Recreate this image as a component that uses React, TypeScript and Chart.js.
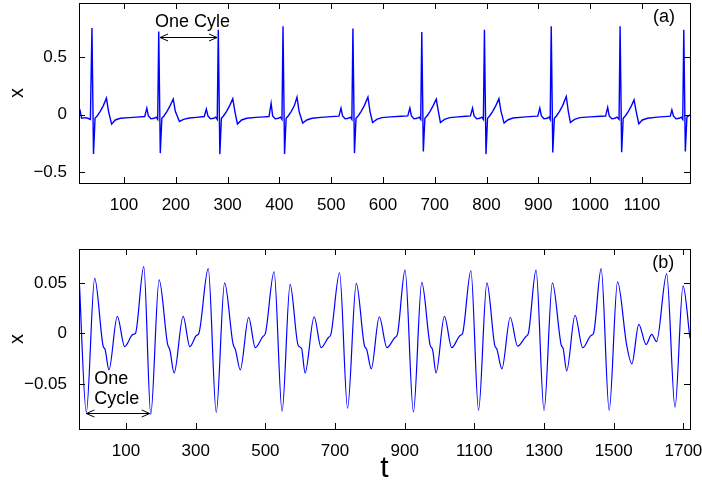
import React, { useEffect, useRef } from 'react';
import { Chart, registerables } from 'chart.js';

Chart.register(...registerables);

const FONT = '"Liberation Sans", Arial, Helvetica, sans-serif';

// ---------- Panel (a): ECG-like signal ----------
const topT: number[] = [
  13, 15, 18, 25, 30, 35,
  38, 41, 44, 48, 54, 60, 66, 70, 76, 83, 93, 110, 125, 140, 144, 147, 152, 158, 162, 165,
  167, 170, 173, 177, 183, 189, 195, 199, 207, 215, 226, 240, 255, 259, 262, 267, 273, 277, 280,
  282, 285, 288, 292, 298, 304, 310, 314, 319, 327, 337, 355, 370, 380, 384, 387, 392, 398, 402, 405,
  407, 410, 413, 417, 423, 429, 434, 438, 445, 453, 463, 480, 500, 515, 519, 522, 527, 533, 537, 540,
  542, 545, 548, 552, 558, 564, 571, 575, 580, 588, 598, 615, 635, 648, 652, 655, 660, 666, 670, 673,
  675, 678, 681, 685, 691, 697, 703, 707, 711, 719, 729, 745, 760, 769, 773, 776, 781, 787, 791, 794,
  796, 799, 802, 806, 812, 818, 824, 828, 834, 841, 851, 870, 890, 899, 903, 906, 911, 917, 921, 923,
  925, 928, 931, 935, 941, 947, 954, 958, 962, 970, 980, 1000, 1020, 1030, 1034, 1037, 1042, 1048, 1052, 1056,
  1058, 1061, 1064, 1068, 1074, 1080, 1085, 1089, 1094, 1101, 1111, 1130, 1150, 1155, 1158, 1161, 1166, 1172, 1176, 1179,
  1181, 1184, 1187, 1193,
];
const topX: number[] = [
  0.058, 0.04, -0.03, -0.025, -0.03, -0.04,
  0.754, -0.34, -0.03, -0.01, 0.03, 0.08, 0.145, 0.03, -0.081, -0.045, -0.03, -0.025, -0.02, -0.015, 0.058, -0.01, -0.035, -0.03, -0.02, -0.04,
  0.724, -0.333, -0.03, -0.01, 0.03, 0.08, 0.137, 0.03, -0.058, -0.04, -0.028, -0.022, -0.015, 0.05, -0.01, -0.035, -0.03, -0.02, -0.04,
  0.74, -0.342, -0.03, -0.01, 0.03, 0.08, 0.14, 0.03, -0.08, -0.045, -0.03, -0.022, -0.018, -0.015, 0.1, -0.01, -0.035, -0.03, -0.02, -0.04,
  0.77, -0.34, -0.03, -0.01, 0.03, 0.08, 0.154, 0.03, -0.072, -0.045, -0.03, -0.022, -0.016, -0.012, 0.058, -0.01, -0.035, -0.03, -0.02, -0.04,
  0.75, -0.333, -0.03, -0.01, 0.03, 0.08, 0.154, 0.03, -0.067, -0.04, -0.025, -0.018, -0.013, -0.01, 0.058, -0.01, -0.035, -0.03, -0.02, -0.04,
  0.72, -0.319, -0.03, -0.01, 0.03, 0.08, 0.137, 0.03, -0.067, -0.04, -0.025, -0.018, -0.013, -0.01, 0.058, -0.01, -0.035, -0.03, -0.02, -0.04,
  0.74, -0.342, -0.03, -0.01, 0.03, 0.08, 0.14, 0.03, -0.072, -0.045, -0.028, -0.02, -0.014, -0.012, 0.058, -0.01, -0.035, -0.03, -0.02, -0.04,
  0.77, -0.328, -0.03, -0.01, 0.03, 0.08, 0.159, 0.03, -0.067, -0.04, -0.025, -0.018, -0.013, -0.012, 0.064, -0.01, -0.035, -0.03, -0.02, -0.04,
  0.77, -0.325, -0.03, -0.01, 0.03, 0.08, 0.13, 0.03, -0.078, -0.045, -0.03, -0.02, -0.014, -0.012, 0.043, -0.01, -0.035, -0.03, -0.02, -0.04,
  0.74, -0.319, -0.02, 0.0,
];
const topXTicks = [100, 200, 300, 400, 500, 600, 700, 800, 900, 1000, 1100];
const topYTicks = [-0.5, 0, 0.5];

// ---------- Panel (b): smooth oscillation ----------
const botT: number[] = [
  -35, -14, 10, 34, 40, 51, 75, 96, 120, 127, 151,
  171, 195, 219, 226, 238, 264, 283, 302, 309, 336,
  359, 383, 407, 414, 428, 452, 471, 493, 500, 525,
  548, 571, 594, 604, 614, 640, 660, 681, 688, 713,
  736, 761, 784, 791, 804, 827, 849, 872, 879, 901,
  925, 949, 973, 980, 990, 1014, 1035, 1059, 1066, 1090,
  1112, 1136, 1158, 1165, 1179, 1203, 1224, 1248, 1255, 1277,
  1300, 1324, 1349, 1355, 1365, 1389, 1411, 1435, 1442, 1464,
  1487, 1511, 1537, 1552, 1572, 1593, 1609, 1623, 1652,
  1676, 1699, 1719,
];
const botX: number[] = [
  0.058, -0.078, 0.0545, -0.012, -0.016, -0.036, 0.017, -0.013, -0.001, 0.0, 0.066,
  -0.08, 0.053, -0.01, -0.0165, -0.039, 0.017, -0.013, -0.002, 0.0, 0.064,
  -0.078, 0.05, -0.01, -0.016, -0.036, 0.016, -0.014, -0.003, 0.0, 0.061,
  -0.077, 0.0485, -0.0116, -0.015, -0.039, 0.0165, -0.014, -0.004, -0.001, 0.06,
  -0.074, 0.0495, -0.0116, -0.016, -0.035, 0.0165, -0.014, -0.004, -0.001, 0.0627,
  -0.0776, 0.0505, -0.0116, -0.016, -0.039, 0.017, -0.014, -0.002, 0.0, 0.062,
  -0.076, 0.05, -0.011, -0.016, -0.035, 0.016, -0.0126, -0.003, 0.0, 0.0627,
  -0.076, 0.05, -0.011, -0.015, -0.037, 0.018, -0.014, -0.002, 0.0, 0.064,
  -0.076, 0.051, -0.011, -0.03, 0.009, -0.011, -0.001, -0.008, 0.059,
  -0.073, 0.047, -0.005,
];
const botXTicks = [100, 300, 500, 700, 900, 1100, 1300, 1500, 1700];
const botYTicks = [-0.05, 0, 0.05];

function fmt(v: number): string {
  if (v === 0) return '0';
  return (v < 0 ? '\u2212' : '') + String(Math.abs(v));
}

type TextSpec = { text: string; x: number; y: number; align: CanvasTextAlign; size: number };
type ArrowSpec = { x1: number; x2: number; y: number };

function makePlugin(texts: TextSpec[], arrows: ArrowSpec[], xLabel: { text: string; y: number } | null) {
  return {
    id: 'matlabAxes',
    afterDatasetsDraw(chart: any) {
      const { ctx, chartArea: a, scales } = chart;
      const xs = scales.x;
      const ys = scales.y;
      const L = 6;
      ctx.save();
      ctx.strokeStyle = '#000';
      ctx.lineWidth = 1;
      ctx.beginPath();
      for (const t of xs.ticks) {
        const px = Math.round(xs.getPixelForValue(t.value)) + 0.5;
        ctx.moveTo(px, a.bottom);
        ctx.lineTo(px, a.bottom - L);
        ctx.moveTo(px, a.top);
        ctx.lineTo(px, a.top + L);
      }
      for (const t of ys.ticks) {
        const py = Math.round(ys.getPixelForValue(t.value)) + 0.5;
        ctx.moveTo(a.left, py);
        ctx.lineTo(a.left + L, py);
        ctx.moveTo(a.right, py);
        ctx.lineTo(a.right - L, py);
      }
      ctx.stroke();
      ctx.strokeRect(a.left + 0.5, a.top + 0.5, a.right - a.left, a.bottom - a.top);

      // arrows
      ctx.beginPath();
      for (const ar of arrows) {
        const y = Math.round(ys.getPixelForValue(ar.y)) + 0.5;
        const x1 = xs.getPixelForValue(ar.x1);
        const x2 = xs.getPixelForValue(ar.x2);
        ctx.moveTo(x1, y);
        ctx.lineTo(x2, y);
        ctx.moveTo(x1 + 8, y - 3.5);
        ctx.lineTo(x1, y);
        ctx.lineTo(x1 + 8, y + 3.5);
        ctx.moveTo(x2 - 8, y - 3.5);
        ctx.lineTo(x2, y);
        ctx.lineTo(x2 - 8, y + 3.5);
      }
      ctx.stroke();

      ctx.fillStyle = '#000';
      ctx.textBaseline = 'middle';
      for (const t of texts) {
        ctx.font = `${t.size}px ${FONT}`;
        ctx.textAlign = t.align;
        ctx.fillText(t.text, xs.getPixelForValue(t.x), ys.getPixelForValue(t.y));
      }

      // y label
      ctx.save();
      ctx.font = `20px ${FONT}`;
      ctx.textAlign = 'center';
      ctx.textBaseline = 'middle';
      ctx.translate(17, (a.top + a.bottom) / 2);
      ctx.rotate(-Math.PI / 2);
      ctx.fillText('x', 0, 0);
      ctx.restore();

      if (xLabel) {
        ctx.font = `30px ${FONT}`;
        ctx.textAlign = 'center';
        ctx.textBaseline = 'alphabetic';
        ctx.fillText(xLabel.text, (a.left + a.right) / 2, xLabel.y);
      }
      ctx.restore();
    },
  };
}

function makeConfig(p: {
  t: number[]; v: number[]; xMin: number; xMax: number; yMin: number; yMax: number;
  xTicks: number[]; yTicks: number[]; padTop: number; axisH: number; smooth: boolean;
  lw: number; plugin: any;
}): any {
  const data = p.t.map((t, i) => ({ x: t, y: p.v[i] }));
  const tickFont = { family: FONT, size: 17 };
  return {
    type: 'line',
    data: {
      datasets: [
        {
          data,
          borderColor: '#0000ff',
          borderWidth: p.lw,
          pointRadius: 0,
          fill: false,
          tension: p.smooth ? 0.4 : 0,
          cubicInterpolationMode: p.smooth ? 'monotone' : 'default',
        },
      ],
    },
    options: {
      responsive: false,
      animation: false,
      events: [],
      layout: { padding: { top: p.padTop, right: 12, left: 0, bottom: 0 } },
      plugins: { legend: { display: false }, tooltip: { enabled: false } },
      scales: {
        x: {
          type: 'linear',
          min: p.xMin,
          max: p.xMax,
          grid: { display: false },
          border: { display: false },
          ticks: {
            font: tickFont,
            color: '#000',
            padding: 4,
            maxRotation: 0,
            autoSkip: false,
            callback: (v: number) => String(v),
          },
          afterBuildTicks: (s: any) => {
            s.ticks = p.xTicks.map((v) => ({ value: v }));
          },
          afterFit: (s: any) => {
            s.height = p.axisH;
            s.paddingLeft = 0;
            s.paddingRight = 0;
          },
        },
        y: {
          type: 'linear',
          min: p.yMin,
          max: p.yMax,
          grid: { display: false },
          border: { display: false },
          ticks: {
            font: tickFont,
            color: '#000',
            padding: 4,
            autoSkip: false,
            callback: (v: number) => fmt(v),
          },
          afterBuildTicks: (s: any) => {
            s.ticks = p.yTicks.map((v) => ({ value: v }));
          },
          afterFit: (s: any) => {
            s.width = 79;
            s.paddingTop = 0;
            s.paddingBottom = 0;
          },
        },
      },
    },
    plugins: [p.plugin],
  };
}

export default function App() {
  const refA = useRef<HTMLCanvasElement>(null);
  const refB = useRef<HTMLCanvasElement>(null);

  useEffect(() => {
    const pa = makePlugin(
      [
        { text: 'One Cyle', x: 232, y: 0.81, align: 'center', size: 18 },
        { text: '(a)', x: 1143, y: 0.846, align: 'center', size: 18 },
      ],
      [{ x1: 169.5, x2: 279.6, y: 0.679 }],
      null,
    );
    const pb = makePlugin(
      [
        { text: 'One', x: 9, y: -0.0452, align: 'left', size: 18 },
        { text: 'Cycle', x: 9, y: -0.065, align: 'left', size: 18 },
        { text: '(b)', x: 1642, y: 0.07, align: 'center', size: 18 },
      ],
      [{ x1: -14, x2: 168, y: -0.0787 }],
      { text: 't', y: 237 },
    );
    const a = new Chart(
      refA.current as HTMLCanvasElement,
      makeConfig({
        t: topT, v: topX, xMin: 13, xMax: 1193, yMin: -0.593, yMax: 0.972,
        xTicks: topXTicks, yTicks: topYTicks, padTop: 3, axisH: 57, smooth: false, lw: 1.4, plugin: pa,
      }),
    );
    const b = new Chart(
      refB.current as HTMLCanvasElement,
      makeConfig({
        t: botT, v: botX, xMin: -35, xMax: 1719, yMin: -0.0945, yMax: 0.0835,
        xTicks: botXTicks, yTicks: botYTicks, padTop: 9, axisH: 56, smooth: true, lw: 1.2, plugin: pb,
      }),
    );
    return () => {
      a.destroy();
      b.destroy();
    };
  }, []);

  return (
    <div style={{ position: 'absolute', left: 0, top: 0, width: 702, height: 485, background: '#fff' }}>
      <canvas
        ref={refA}
        width={702}
        height={240}
        style={{ position: 'absolute', left: 0, top: 0, width: 702, height: 240 }}
      />
      <canvas
        ref={refB}
        width={702}
        height={245}
        style={{ position: 'absolute', left: 0, top: 240, width: 702, height: 245 }}
      />
    </div>
  );
}
